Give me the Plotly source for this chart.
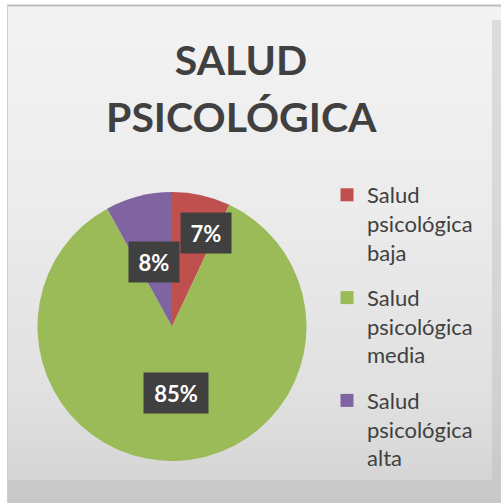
import plotly.graph_objects as go

# ---- data ----
categories = ["Salud psicológica baja", "Salud psicológica media", "Salud psicológica alta"]
values = [7, 85, 8]
colors = ["#C0504D", "#9BBB59", "#8064A2"]
title_lines = ["SALUD", "PSICOLÓGICA"]

# ---- style / layout helpers ----
W, H = 501, 503
def px_x(p): return p / W
def px_y(p): return 1 - p / H

# label positions (pixels) chosen to mimic the original label placement
label_pos = [(205.5, 233), (176, 393), (154, 261.5)]

fig = go.Figure()

fig.add_trace(go.Pie(
    labels=categories,
    values=values,
    marker=dict(colors=colors, line=dict(width=0)),
    sort=False,
    direction="clockwise",
    rotation=0,
    textinfo="none",
    hoverinfo="label+percent",
    showlegend=False,
    domain=dict(x=[px_x(37), px_x(307)], y=[px_y(461), px_y(192)]),
))

# legend entries (one per category so the library spaces the groups)
for i, (c, col) in enumerate(zip(categories, colors)):
    name = "<br>".join(c.split(" "))
    fig.add_trace(go.Scatter(
        x=[None], y=[None], mode="markers",
        marker=dict(symbol="square", size=13, color=col),
        name=name, legendgroup=f"g{i}", showlegend=True,
        hoverinfo="skip",
    ))

total = sum(values)
annotations = []
for v, (lx, ly) in zip(values, label_pos):
    txt = f"{round(100 * v / total)}%"
    annotations.append(dict(
        x=px_x(lx), y=px_y(ly), xref="paper", yref="paper",
        xanchor="center", yanchor="middle",
        text=f"<b>{txt}</b>", showarrow=False,
        font=dict(family="Lato", size=22, color="white"),
        bgcolor="#404040", borderpad=0,
        width=50 if len(txt) <= 2 else 64, height=40,
    ))

# second title line
annotations.append(dict(
    x=px_x(241), y=px_y(117), xref="paper", yref="paper",
    xanchor="center", yanchor="middle", showarrow=False,
    text=f"<b>{title_lines[1]}</b>",
    font=dict(family="Lato", size=41, color="#404040"),
))

# background gradient approximation
shapes = []
stops = [(5, (0xF3, 0xF3, 0xF3)), (200, (0xEC, 0xEC, 0xEC)), (400, (0xE0, 0xE0, 0xE0)), (503, (0xD2, 0xD2, 0xD2))]
def col_at(p):
    for (a, ca), (b, cb) in zip(stops[:-1], stops[1:]):
        if a <= p <= b:
            t = (p - a) / (b - a)
            return tuple(int(round(ca[k] + (cb[k] - ca[k]) * t)) for k in range(3))
    return stops[-1][1]
n = 166
for k in range(n):
    y0 = 5 + (503 - 5) * k / n
    y1 = 5 + (503 - 5) * (k + 1) / n
    r, g, b = col_at((y0 + y1) / 2)
    shapes.append(dict(type="rect", xref="paper", yref="paper", layer="below",
                       x0=px_x(7), x1=1, y0=px_y(y1), y1=px_y(y0),
                       fillcolor=f"rgb({r},{g},{b})", line=dict(width=0)))
shapes.append(dict(type="rect", xref="paper", yref="paper", layer="below",
                   x0=px_x(492), x1=1, y0=0, y1=px_y(20),
                   fillcolor="rgba(180,180,180,0.35)", line=dict(width=0)))
shapes.append(dict(type="rect", xref="paper", yref="paper", layer="below",
                   x0=px_x(7), x1=px_x(492), y0=0, y1=px_y(480),
                   fillcolor="rgba(180,180,180,0.3)", line=dict(width=0)))
shapes.append(dict(type="line", xref="paper", yref="paper",
                   x0=px_x(7), x1=1, y0=px_y(5.5), y1=px_y(5.5),
                   line=dict(color="#BDBDBD", width=2)))
shapes.append(dict(type="line", xref="paper", yref="paper",
                   x0=px_x(7.5), x1=px_x(7.5), y0=0, y1=px_y(5),
                   line=dict(color="#D0D0D0", width=1)))

fig.update_layout(
    width=W, height=H, autosize=False,
    margin=dict(l=0, r=0, t=0, b=0),
    paper_bgcolor="white", plot_bgcolor="rgba(0,0,0,0)",
    title=dict(text=f"<b>{title_lines[0]}</b>", x=px_x(241), xanchor="center",
               y=px_y(61), yanchor="middle",
               font=dict(family="Lato", size=41, color="#404040")),
    xaxis=dict(visible=False), yaxis=dict(visible=False),
    legend=dict(x=px_x(327), xanchor="left", y=px_y(174), yanchor="top",
                font=dict(family="Lato", size=22, color="#404040"),
                valign="top", tracegroupgap=14, bgcolor="rgba(0,0,0,0)"),
    annotations=annotations,
    shapes=shapes,
)

fig.write_html("out.html", config={"displayModeBar": False},
               post_script="document.body.style.margin='0';document.body.style.overflow='hidden';")
